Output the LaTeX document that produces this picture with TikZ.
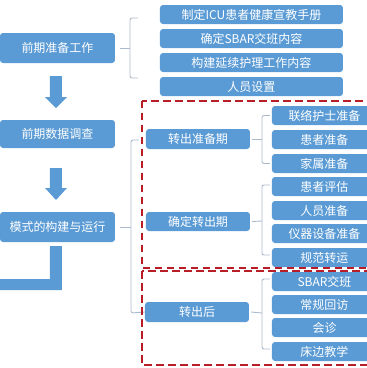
\documentclass[tikz,border=0pt]{standalone}
\usepackage{fontspec}
\setmainfont{Noto Sans CJK SC}
\usetikzlibrary{calc}
\definecolor{boxblue}{HTML}{5B9BD5}
\definecolor{bracegray}{HTML}{A9BBCD}
\definecolor{dashred}{HTML}{B81E28}
\begin{document}
\begin{tikzpicture}[x=1pt,y=-1pt,
  box/.style={fill=boxblue, rounded corners=3pt, text=white, inner sep=0pt,
    font=\fontsize{12}{13}\selectfont},
  lbox/.style={box, minimum width=115pt, minimum height=29pt},
  tbox/.style={box, minimum width=183pt, minimum height=19pt},
  mbox/.style={box, minimum width=104pt, minimum height=20pt},
  rbox/.style={box, minimum width=105pt, minimum height=19pt},
  brace/.style={draw=bracegray, line width=0.9pt, rounded corners=2pt},
  reddash/.style={draw=dashred, line width=2pt, dash pattern=on 7.5pt off 4.5pt}]
\useasboundingbox (0,0) rectangle (367,368);
\clip (0,0) rectangle (367,368);

% left column
\node[lbox, minimum height=30pt] (L1) at (57.5,48) {前期准备工作};
\node[lbox, minimum height=28pt] (L2) at (57.5,134) {前期数据调查};
\node[lbox, minimum height=30pt] (L3) at (57.5,227) {模式的构建与运行};

% block arrows
\fill[boxblue] (50,76) -- (62,76) -- (62,97) -- (67,97) -- (56,108) -- (45,97) -- (50,97) -- cycle;
\fill[boxblue] (50,168) -- (62,168) -- (62,188) -- (67,188) -- (56,200) -- (45,188) -- (50,188) -- cycle;
\fill[boxblue] (50,246) -- (62,246) -- (62,290) -- (-10,290) -- (-10,279) -- (50,279) -- cycle;

% top right group
\node[tbox] (T1) at (251.5,14.5) {制定ICU患者健康宣教手册};
\node[tbox] (T2) at (251.5,38.5) {确定SBAR交班内容};
\node[tbox] (T3) at (251.5,62.5) {构建延续护理工作内容};
\node[tbox] (T4) at (251.5,86.5) {人员设置};

% middle column
\node[mbox] (M1) at (198,139) {转出准备期};
\node[mbox, minimum height=19pt] (M2) at (198,221.5) {确定转出期};
\node[mbox] (M3) at (197,312) {转出后};

% right column
\node[rbox] (R1) at (324.5,115.5) {联络护士准备};
\node[rbox] (R2) at (324.5,139.5) {患者准备};
\node[rbox] (R3) at (324.5,163.5) {家属准备};
\node[rbox] (R4) at (324.5,186.5) {患者评估};
\node[rbox] (R5) at (324.5,210.5) {人员准备};
\node[rbox] (R6) at (324.5,233.5) {仪器设备准备};
\node[rbox] (R7) at (324.5,257.5) {规范转运};
\node[rbox] (R8) at (324.5,281.5) {SBAR交班};
\node[rbox] (R9) at (324.5,304.5) {常规回访};
\node[rbox] (R10) at (324.5,327.5) {会诊};
\node[rbox] (R11) at (324.5,351.5) {床边教学};

% braces
\draw[brace] ($(L1.east)+(5,0)$) -- (130,48);
\draw[brace] (138,18) -- (130,18) -- (130,78) -- (138,78);

\draw[brace] ($(L3.east)+(5,0)$) -- (131,227);
\draw[brace] (139,140) -- (131,140) -- (131,313) -- (M3.west);

\draw[brace] ($(M1.east)+(2,0)$) -- (262,139);
\draw[brace] (R1.west) ++(-2,0) coordinate (a1) -- (262,115.5) -- (262,163.5) -- ($(R3.west)+(-2,0)$);

\draw[brace] ($(M2.east)+(2,0)$) -- (262,221);
\draw[brace] (270,185) -- (262,185) -- (262,255) -- (270,255);

\draw[brace] ($(M3.east)+(2,0)$) -- (262,313);
\draw[brace] (270,279) -- (262,279) -- (262,349) -- (270,349);

% dashed regions
\draw[reddash] (142,100.5) rectangle (385,268);
\draw[reddash] (142,271) rectangle (385,365);
\end{tikzpicture}
\end{document}
